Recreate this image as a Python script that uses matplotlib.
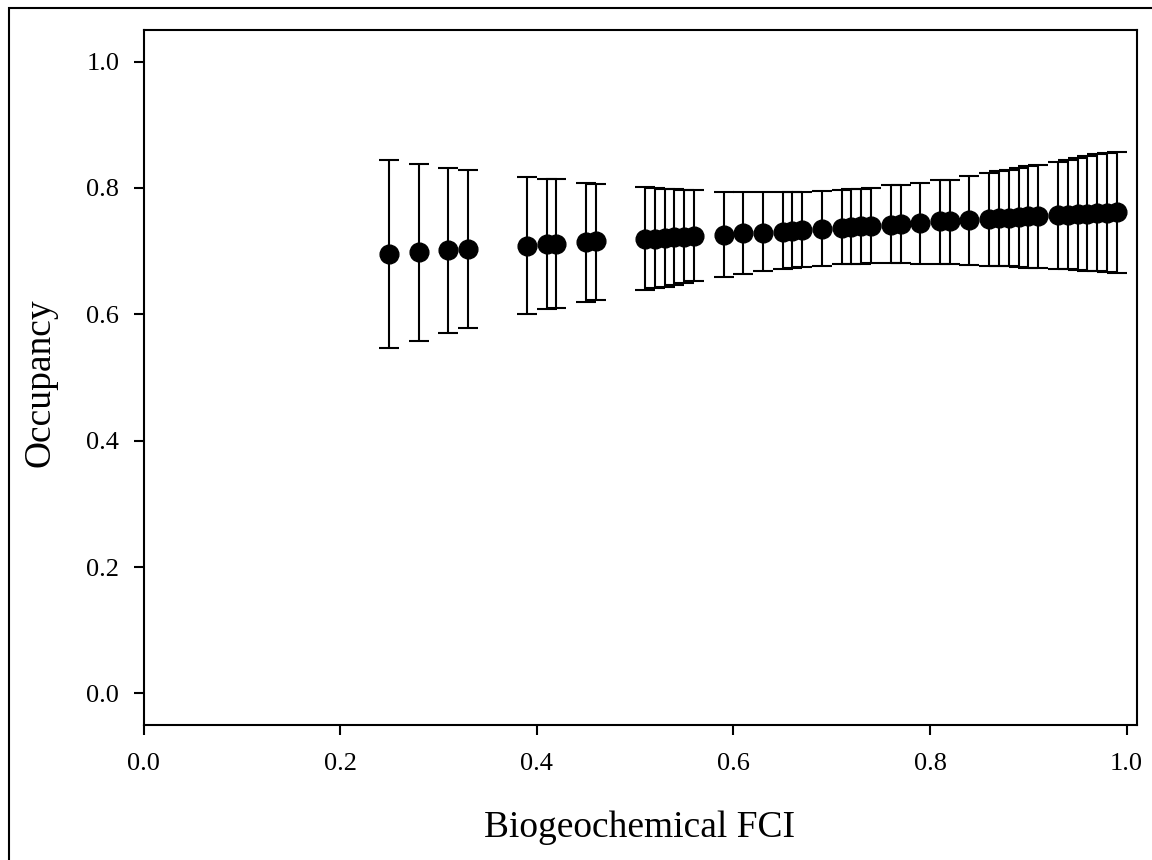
import matplotlib
matplotlib.use("Agg")
import matplotlib.pyplot as plt
from matplotlib.patches import Rectangle
import numpy as np

plt.rcParams['font.family'] = ['Liberation Serif', 'DejaVu Serif']

fci = [0.25, 0.28, 0.31, 0.33, 0.39, 0.41, 0.42, 0.45, 0.46,
       0.51, 0.52, 0.53, 0.54, 0.55, 0.56,
       0.59, 0.61, 0.63, 0.65, 0.66, 0.67, 0.69, 0.71, 0.72, 0.73, 0.74,
       0.76, 0.77, 0.79, 0.81, 0.82, 0.84,
       0.86, 0.87, 0.88, 0.89, 0.90, 0.91,
       0.93, 0.94, 0.95, 0.96, 0.97, 0.98, 0.99]

occupancy = [0.696, 0.698, 0.702, 0.703, 0.708, 0.711, 0.712, 0.715, 0.716,
             0.719, 0.720, 0.721, 0.722, 0.723, 0.724,
             0.726, 0.728, 0.729, 0.731, 0.732, 0.733, 0.735, 0.737, 0.738, 0.739, 0.740,
             0.742, 0.743, 0.745, 0.747, 0.748, 0.749,
             0.751, 0.752, 0.753, 0.754, 0.755, 0.756,
             0.757, 0.757, 0.758, 0.759, 0.760, 0.761, 0.762]

upper = [0.844, 0.838, 0.832, 0.829, 0.818, 0.814, 0.814, 0.808, 0.807,
         0.801, 0.800, 0.799, 0.798, 0.797, 0.796,
         0.794, 0.793, 0.793, 0.794, 0.794, 0.794, 0.795, 0.797, 0.798, 0.799, 0.800,
         0.804, 0.804, 0.808, 0.813, 0.813, 0.819,
         0.824, 0.827, 0.829, 0.832, 0.835, 0.836,
         0.841, 0.845, 0.848, 0.850, 0.853, 0.855, 0.857]

lower = [0.547, 0.558, 0.571, 0.578, 0.600, 0.608, 0.610, 0.620, 0.622,
         0.638, 0.641, 0.644, 0.647, 0.650, 0.653,
         0.659, 0.664, 0.668, 0.672, 0.674, 0.675, 0.676, 0.679, 0.680, 0.680, 0.681,
         0.681, 0.681, 0.680, 0.679, 0.679, 0.678,
         0.677, 0.677, 0.676, 0.675, 0.674, 0.673,
         0.672, 0.671, 0.670, 0.669, 0.668, 0.667, 0.666]

xticks = [0.0, 0.2, 0.4, 0.6, 0.8, 1.0]
yticks = [0.0, 0.2, 0.4, 0.6, 0.8, 1.0]

fig = plt.figure(figsize=(11.52, 8.6), dpi=100)
fig.patch.set_facecolor('white')
ax = fig.add_axes([143.5 / 1152, 135 / 860, (1136.5 - 143.5) / 1152, (725 - 30) / 860])

occ = np.array(occupancy)
yerr = np.vstack([occ - np.array(lower), np.array(upper) - occ])
ax.errorbar(fci, occ, yerr=yerr, fmt='o', color='black', ecolor='black',
            markersize=13.5, elinewidth=1.5, capsize=7.5, capthick=1.5)

ax.set_xlim(0, 1.01)
ax.set_ylim(-0.05, 1.05)
ax.set_xticks(xticks)
ax.set_yticks(yticks)
ax.set_xticklabels([f"{t:.1f}" for t in xticks])
ax.set_yticklabels([f"{t:.1f}" for t in yticks])
ax.tick_params(axis='both', direction='out', length=7.5, width=1.5, labelsize=19)
ax.tick_params(axis='x', pad=13)
ax.tick_params(axis='y', pad=10)
for s in ax.spines.values():
    s.set_linewidth(1.5)

ax.set_xlabel('Biogeochemical FCI', fontsize=27)
ax.set_ylabel('Occupancy', fontsize=27)
ax.xaxis.set_label_coords(0.5, -0.161)
ax.xaxis.label.set_va('baseline')
ax.yaxis.set_label_coords(-0.104, 0.493)
ax.yaxis.label.set_va('center')

fig.add_artist(Rectangle((9 / 1152, -0.05), 1.2, 1 - 8 / 860 + 0.05,
                         transform=fig.transFigure, fill=False,
                         linewidth=1.5, edgecolor='black'))

fig.savefig('out.png', dpi=100, facecolor='white')
